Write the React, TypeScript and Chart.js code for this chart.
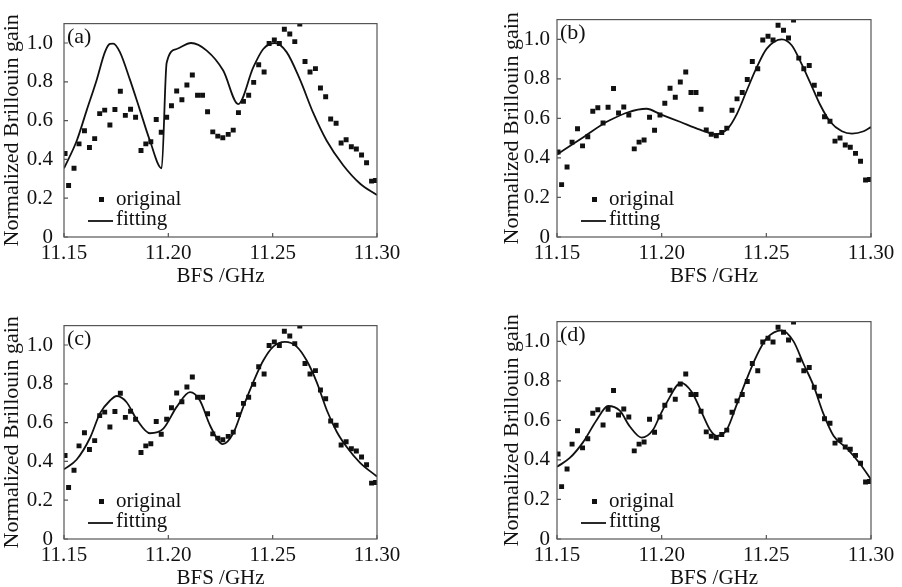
import React, { useEffect, useRef } from 'react';
import { Chart, registerables } from 'chart.js';
Chart.register(...registerables);

const FONT = '"Liberation Serif", "Times New Roman", serif';

// measured data (same for all four panels)
const freq = [11.1505, 11.1522, 11.1548, 11.1572, 11.1598, 11.1622, 11.1647, 11.1671, 11.1695, 11.1720,
  11.1744, 11.1770, 11.1794, 11.1819, 11.1843, 11.1869, 11.1892, 11.1916, 11.1942, 11.1966,
  11.1992, 11.2015, 11.2040, 11.2065, 11.2089, 11.2115, 11.2140, 11.2164, 11.2188, 11.2213,
  11.2237, 11.2261, 11.2287, 11.2311, 11.2336, 11.2360, 11.2385, 11.2409, 11.2433, 11.2459,
  11.2483, 11.2508, 11.2532, 11.2556, 11.2582, 11.2606, 11.2630, 11.2655, 11.2679, 11.2705,
  11.2729, 11.2754, 11.2778, 11.2804, 11.2828, 11.2852, 11.2877, 11.2901, 11.2926, 11.2950,
  11.2974, 11.2993];
const original = [0.43, 0.265, 0.354, 0.480, 0.548, 0.461, 0.507, 0.636, 0.654, 0.577,
  0.657, 0.751, 0.627, 0.658, 0.617, 0.446, 0.480, 0.491, 0.606, 0.540,
  0.617, 0.677, 0.753, 0.707, 0.784, 0.835, 0.731, 0.731, 0.646, 0.542,
  0.520, 0.512, 0.529, 0.551, 0.641, 0.699, 0.731, 0.797, 0.888, 0.851,
  0.997, 1.016, 0.997, 1.071, 1.046, 1.007, 1.098, 0.905, 0.851, 0.868,
  0.768, 0.723, 0.608, 0.586, 0.485, 0.501, 0.465, 0.454, 0.423, 0.383,
  0.288, 0.291];

// fitting curves
const fitAx = [11.15, 11.1561, 11.1609, 11.1657, 11.1696, 11.1720, 11.1736, 11.1768, 11.1816, 11.1864,
  11.1912, 11.1968, 11.1992, 11.2040, 11.2109, 11.2184, 11.2263, 11.2335, 11.2407, 11.2455,
  11.2511, 11.2567, 11.2631, 11.2695, 11.2759, 11.2838, 11.2918, 11.30];
const fitAy = [0.354, 0.496, 0.654, 0.811, 0.953, 0.995, 0.997, 0.953, 0.811, 0.654,
  0.496, 0.354, 0.898, 0.969, 1.0, 0.961, 0.858, 0.685, 0.874, 0.969,
  1.0, 0.953, 0.811, 0.638, 0.496, 0.370, 0.276, 0.216];

const fitBx = [11.15, 11.1624, 11.1752, 11.1928, 11.1992, 11.2087, 11.2183, 11.2255, 11.2311, 11.2359,
  11.2406, 11.2454, 11.2502, 11.2574, 11.2622, 11.2662, 11.2710, 11.2757, 11.2805, 11.2861,
  11.2909, 11.2965, 11.30];
const fitBy = [0.417, 0.504, 0.591, 0.649, 0.622, 0.583, 0.543, 0.520, 0.543, 0.622,
  0.740, 0.858, 0.953, 1.0, 0.969, 0.890, 0.780, 0.669, 0.583, 0.535,
  0.523, 0.535, 0.556];

const fitCx = [11.15, 11.1561, 11.1625, 11.1673, 11.1720, 11.1753, 11.1800, 11.1848, 11.1912, 11.1976,
  11.2040, 11.2104, 11.2152, 11.2200, 11.2261, 11.2311, 11.2359, 11.2407, 11.2455, 11.2503,
  11.2559, 11.2615, 11.2663, 11.2711, 11.2759, 11.2807, 11.2855, 11.2918, 11.30];
const fitCy = [0.359, 0.410, 0.522, 0.649, 0.713, 0.737, 0.705, 0.617, 0.545, 0.569,
  0.681, 0.757, 0.713, 0.585, 0.489, 0.545, 0.681, 0.809, 0.920, 0.992,
  1.016, 0.992, 0.920, 0.809, 0.665, 0.553, 0.474, 0.394, 0.322];

const fitDx = [11.15, 11.1561, 11.1624, 11.1689, 11.1744, 11.1800, 11.1848, 11.1904, 11.1959, 11.1992,
  11.2024, 11.2092, 11.2143, 11.2191, 11.2231, 11.2263, 11.2311, 11.2359, 11.2406, 11.2454,
  11.2502, 11.2574, 11.2630, 11.2677, 11.2725, 11.2773, 11.2821, 11.2885, 11.2949, 11.30];
const fitDy = [0.365, 0.410, 0.489, 0.601, 0.673, 0.649, 0.569, 0.513, 0.553, 0.625,
  0.69, 0.79, 0.745, 0.641, 0.553, 0.522, 0.553, 0.681, 0.809, 0.928,
  1.016, 1.056, 1.0, 0.888, 0.777, 0.633, 0.522, 0.458, 0.378, 0.301];

const xTicks = [11.15, 11.20, 11.25, 11.30];
const yTicks = [0, 0.2, 0.4, 0.6, 0.8, 1.0];
const panelLabels = ['(a)', '(b)', '(c)', '(d)'];
const seriesNames = ['original', 'fitting'];

const framePlugin = {
  id: 'frame',
  afterDraw(chart: any) {
    const { ctx, chartArea: a, scales } = chart;
    const o = chart.options.plugins.frame;
    ctx.save();
    ctx.strokeStyle = '#555';
    ctx.lineWidth = 1.2;
    ctx.strokeRect(a.left, a.top, a.right - a.left, a.bottom - a.top);
    ctx.beginPath();
    scales.x.ticks.forEach((t: any) => {
      const px = scales.x.getPixelForValue(t.value);
      ctx.moveTo(px, a.bottom);
      ctx.lineTo(px, a.bottom - 4);
    });
    scales.y.ticks.forEach((t: any) => {
      const py = scales.y.getPixelForValue(t.value);
      ctx.moveTo(a.left, py);
      ctx.lineTo(a.left + 4, py);
    });
    ctx.stroke();
    // panel label
    ctx.fillStyle = '#111';
    ctx.font = `22px ${FONT}`;
    ctx.textBaseline = 'alphabetic';
    ctx.textAlign = 'left';
    ctx.fillText(o.label, a.left + 3, a.top + 19);
    // legend
    const ds = chart.data.datasets;
    ctx.font = `21px ${FONT}`;
    ctx.fillStyle = '#111';
    ctx.fillRect(a.left + 35, a.bottom - 40, 5, 5);
    ctx.fillText(ds[0].label, a.left + 52, a.bottom - 32);
    ctx.strokeStyle = '#111';
    ctx.lineWidth = 1.8;
    ctx.beginPath();
    ctx.moveTo(a.left + 24, a.bottom - 16);
    ctx.lineTo(a.left + 49, a.bottom - 16);
    ctx.stroke();
    ctx.fillText(ds[1].label, a.left + 52, a.bottom - 12);
    ctx.restore();
  },
};

function Panel(props: any) {
  const ref = useRef<HTMLCanvasElement>(null);
  useEffect(() => {
    const c = ref.current!;
    const chart = new Chart(c, {
      type: 'scatter',
      data: {
        datasets: [
          {
            label: seriesNames[0],
            data: freq.map((f, i) => ({ x: f, y: original[i] })),
            pointStyle: 'rect',
            pointRadius: 3.5,
            backgroundColor: '#111',
            borderWidth: 0,
            showLine: false,
          },
          {
            label: seriesNames[1],
            data: props.fx.map((f: number, i: number) => ({ x: f, y: props.fy[i] })),
            showLine: true,
            pointRadius: 0,
            borderColor: '#111',
            borderWidth: 1.8,
            cubicInterpolationMode: 'monotone',
            fill: false,
          },
        ],
      },
      options: {
        responsive: false,
        animation: false,
        events: [],
        layout: { padding: { top: props.padTop, right: props.padRight, left: 0, bottom: 0 } },
        plugins: { legend: { display: false }, tooltip: { enabled: false }, frame: { label: props.label } } as any,
        scales: {
          x: {
            type: 'linear',
            min: 11.15,
            max: 11.30,
            afterBuildTicks: (s: any) => { s.ticks = xTicks.map((v) => ({ value: v })); },
            afterFit: (s: any) => { s.height = 52; },
            grid: { display: false, drawTicks: false },
            border: { display: false },
            ticks: {
              font: { family: FONT, size: 21 },
              color: '#111',
              padding: 4,
              maxRotation: 0,
              autoSkip: false,
              callback: (v: any) => Number(v).toFixed(2),
            },
            title: {
              display: true,
              text: 'BFS /GHz',
              font: { family: FONT, size: 21, lineHeight: 1 },
              color: '#111',
              padding: { top: 0, bottom: 2 },
            },
          },
          y: {
            type: 'linear',
            min: 0,
            max: 1.1,
            afterBuildTicks: (s: any) => { s.ticks = yTicks.map((v) => ({ value: v })); },
            afterFit: (s: any) => { s.width = 64; },
            grid: { display: false, drawTicks: false },
            border: { display: false },
            ticks: {
              font: { family: FONT, size: 21 },
              color: '#111',
              padding: props.yPad,
              callback: (v: any) => (Number(v) === 0 ? '0' : Number(v).toFixed(1)),
            },
            title: {
              display: true,
              text: 'Normalized Brillouin gain',
              font: { family: FONT, size: 22, lineHeight: 1 },
              color: '#111',
              padding: { top: props.titlePad, bottom: 0 },
            },
          },
        },
      },
      plugins: [framePlugin],
    } as any);
    return () => chart.destroy();
  }, []);
  return (
    <canvas
      ref={ref}
      width={props.w}
      height={289}
      style={{ position: 'absolute', left: props.left, top: props.top, width: props.w, height: 289 }}
    />
  );
}

export default function App() {
  return (
    <div style={{ position: 'fixed', left: 0, top: 0, width: 902, height: 587, overflow: 'hidden', background: '#fff' }}>
      <Panel label={panelLabels[0]} fx={fitAx} fy={fitAy} left={0} top={0} w={440} padTop={5} padRight={63} yPad={11} titlePad={1} />
      <Panel label={panelLabels[1]} fx={fitBx} fy={fitBy} left={493} top={0} w={409} padTop={5} padRight={31} yPad={7} titlePad={8} />
      <Panel label={panelLabels[2]} fx={fitCx} fy={fitCy} left={0} top={302} w={440} padTop={5} padRight={63} yPad={11} titlePad={1} />
      <Panel label={panelLabels[3]} fx={fitDx} fy={fitDy} left={493} top={302} w={409} padTop={5} padRight={31} yPad={7} titlePad={8} />
    </div>
  );
}
